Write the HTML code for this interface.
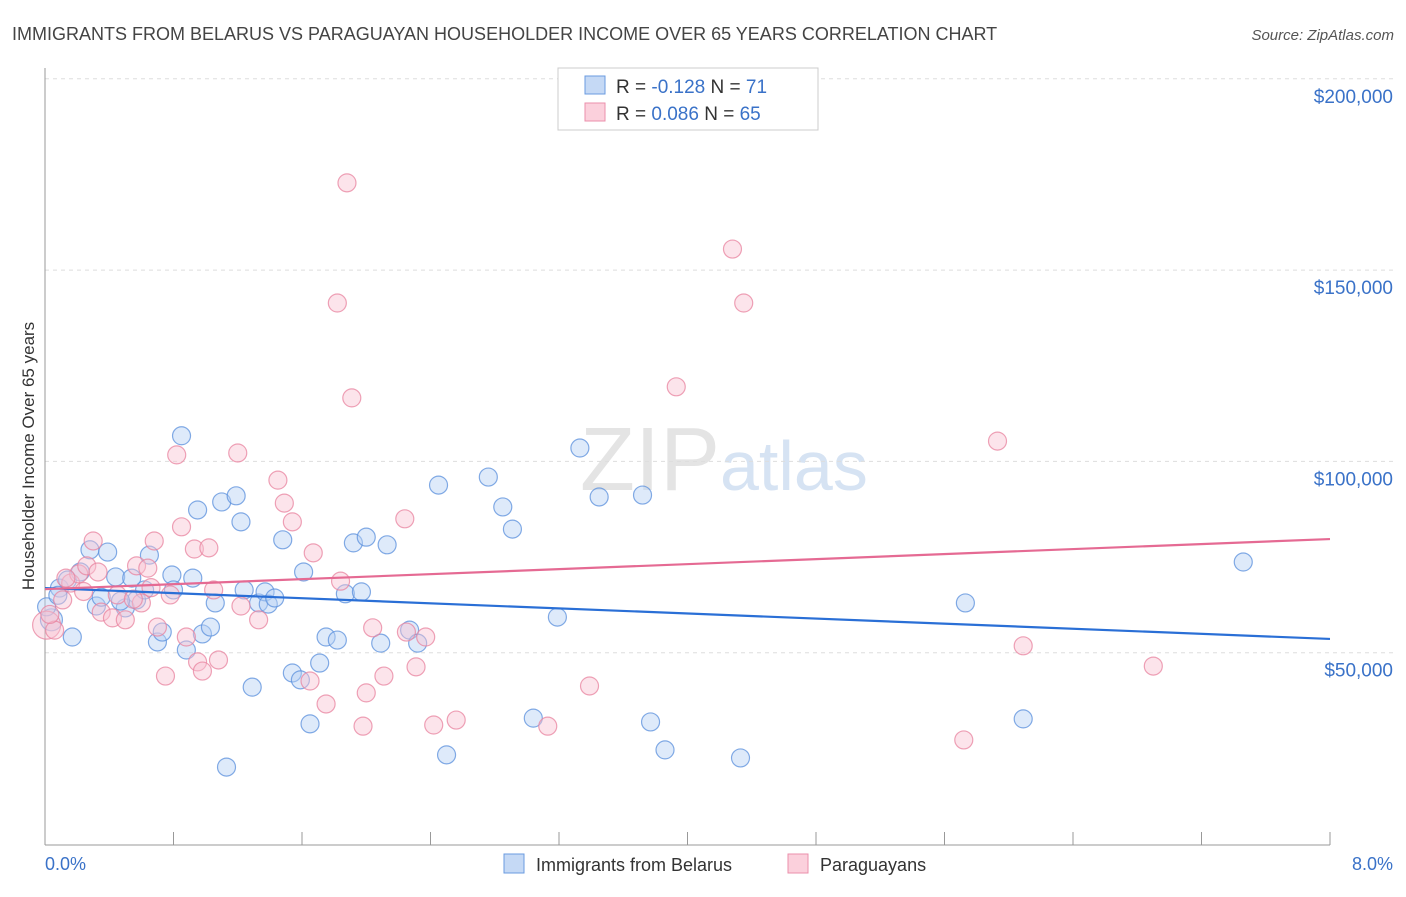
<!DOCTYPE html>
<html><head><meta charset="utf-8"><style>
body{margin:0;background:#fff;font-family:"Liberation Sans",sans-serif}
svg text{font-family:"Liberation Sans",sans-serif}
</style></head><body>
<svg id="chart" width="1406" height="892" xmlns="http://www.w3.org/2000/svg">
<text x="12" y="40" font-size="18" fill="#444">IMMIGRANTS FROM BELARUS VS PARAGUAYAN HOUSEHOLDER INCOME OVER 65 YEARS CORRELATION CHART</text>
<text x="1394" y="40" font-size="15" fill="#555" text-anchor="end" font-style="italic">Source: ZipAtlas.com</text>
<text x="720" y="490" font-size="90" fill="#e4e4e4" text-anchor="end" font-family="Liberation Serif">ZIP</text>
<text x="720" y="490" font-size="70" fill="#d6e3f3">atlas</text>
<g id="grid"></g><g id="axes"></g><g id="pts"></g><g id="trends"></g>
<text transform="translate(34,456) rotate(-90)" font-size="17" fill="#333" text-anchor="middle">Householder Income Over 65 years</text>
<text x="45" y="870" font-size="18" fill="#3a72c8">0.0%</text>
<text x="1393" y="870" font-size="18" fill="#3a72c8" text-anchor="end">8.0%</text>
<g>
<rect x="558" y="68" width="260" height="62" fill="#fff" stroke="#ccc"/>
<rect x="585" y="76" width="20" height="18" fill="#c5d9f5" stroke="#6a9be0"/>
<rect x="585" y="103" width="20" height="18" fill="#fbd0dc" stroke="#eb8fab"/>
<text x="616" y="93" font-size="19" fill="#333">R = <tspan fill="#3a72c8">-0.128</tspan>   N = <tspan fill="#3a72c8"> 71</tspan></text>
<text x="616" y="120" font-size="19" fill="#333">R = <tspan fill="#3a72c8"> 0.086</tspan>   N = <tspan fill="#3a72c8">65</tspan></text>
</g>
<g>
<rect x="504" y="854" width="20" height="19" fill="#c5d9f5" stroke="#6a9be0"/>
<text x="536" y="871" font-size="18" fill="#333">Immigrants from Belarus</text>
<rect x="788" y="854" width="20" height="19" fill="#fbd0dc" stroke="#eb8fab"/>
<text x="820" y="871" font-size="18" fill="#333">Paraguayans</text>
</g>
</svg>
<script>
const yTicks=[50000,100000,150000,200000];
const yTickLabels=["$50,000","$100,000","$150,000","$200,000"];
const blueX=[0.04,0.17,0.09,0.14,0.22,0.28,0.39,0.32,0.44,0.50,0.54,0.57,0.65,0.62,0.70,0.73,0.79,0.80,0.85,0.88,0.92,0.95,0.98,1.03,1.06,1.10,1.19,1.22,1.24,1.29,1.13,1.33,1.37,1.39,1.43,1.48,1.54,1.59,1.61,1.65,1.71,1.75,1.82,1.87,1.92,1.97,2.00,2.09,2.13,2.27,2.32,2.45,2.50,2.76,2.85,2.91,3.04,3.19,3.33,3.45,3.72,3.77,3.86,4.33,5.73,6.09,7.46,0.01,0.08,0.35,0.47];
const blueY=[58.6,54.1,66.9,69.0,71.1,76.9,76.3,62.2,69.8,61.7,69.5,63.8,75.5,66.4,52.8,55.4,70.3,66.4,106.7,50.7,69.5,87.3,54.9,56.7,63.0,89.4,91.0,84.2,66.4,41.0,20.1,63.0,65.9,62.7,64.3,79.5,44.7,42.9,71.1,31.4,47.3,54.1,53.3,65.4,78.7,65.9,80.2,52.5,78.2,55.9,52.5,93.8,23.3,95.9,88.1,82.3,32.9,59.3,103.5,90.7,91.2,31.9,24.6,22.5,63.0,32.7,73.7,62.0,65.0,64.5,63.5];
const pinkX=[0.01,0.06,0.11,0.16,0.21,0.26,0.30,0.33,0.35,0.42,0.45,0.50,0.57,0.60,0.64,0.68,0.70,0.75,0.78,0.82,0.85,0.88,0.93,0.95,0.98,1.02,1.05,1.08,1.20,1.22,1.33,1.45,1.49,1.54,1.65,1.67,1.75,1.82,1.84,1.88,1.91,1.98,2.00,2.04,2.11,2.24,2.25,2.31,2.37,2.42,2.56,3.13,3.39,3.93,4.28,4.35,5.72,5.93,6.09,6.90,0.03,0.13,0.24,0.55,0.66];
const pinkY=[57.2,55.9,63.8,68.2,70.6,72.7,79.2,71.1,60.6,59.1,65.1,58.6,72.7,63.0,72.1,79.2,56.7,43.9,65.1,101.7,82.9,54.1,77.1,47.6,45.2,77.4,66.4,48.1,102.2,62.2,58.6,95.1,89.1,84.2,42.6,76.1,36.6,141.4,68.7,172.8,116.6,30.8,39.5,56.5,43.9,85.0,55.4,46.3,54.1,31.1,32.4,30.8,41.3,119.5,155.5,141.4,27.2,105.3,51.8,46.5,60.0,69.5,66.0,64.0,67.0];
const blueTrend=[66.9,53.6];
const pinkTrend=[66.6,79.7];
const NS="http://www.w3.org/2000/svg";
const X=v=>45+v/8*1285, Y=v=>844-v/50000*191.3;
function mk(tag,attrs,parent){const e=document.createElementNS(NS,tag);for(const k in attrs)e.setAttribute(k,attrs[k]);document.getElementById(parent).appendChild(e);return e;}
yTicks.forEach((t,i)=>{
 const l=mk('line',{x1:45,x2:1393,y1:Y(t),y2:Y(t),stroke:'#ddd','stroke-dasharray':'4,4'},'grid');
 
 
 const tx=mk('text',{x:1393,y:Y(t)+24,'font-size':19,fill:'#3a72c8','text-anchor':'end'},'grid');
 tx.textContent=yTickLabels[i];
 
 
});
const ax=mk('line',{x1:45,x2:45,y1:68,y2:845,stroke:'#999'},'axes');


const bx=mk('line',{x1:45,x2:1330,y1:845,y2:845,stroke:'#999'},'axes');


for(let i=1;i<=10;i++){const t=mk('line',{x1:X(i*0.8),x2:X(i*0.8),y1:832,y2:845,stroke:'#999'},'axes');
 
 }
function pts(xs,ys,fill,stroke,name){xs.forEach((x,i)=>{
 const r=(i===0)?(name==='pink-point'?14:11):9;
 const c=mk('circle',{cx:X(x),cy:Y(ys[i]*1000),r:r,fill:fill,'fill-opacity':0.45,stroke:stroke,'stroke-opacity':0.75,'stroke-width':1.2},'pts');
 
 
});}
pts(blueX,blueY,'#b6d0f3','#5a8fdc','blue-point');
pts(pinkX,pinkY,'#f9c3d2','#e8839f','pink-point');
const bl=mk('line',{x1:X(0),x2:X(8),y1:Y(blueTrend[0]*1000),y2:Y(blueTrend[1]*1000),stroke:'#2a6fd6','stroke-width':2.2},'trends');


const pl=mk('line',{x1:X(0),x2:X(8),y1:Y(pinkTrend[0]*1000),y2:Y(pinkTrend[1]*1000),stroke:'#e56a93','stroke-width':2.2},'trends');


</script>
</body></html>
